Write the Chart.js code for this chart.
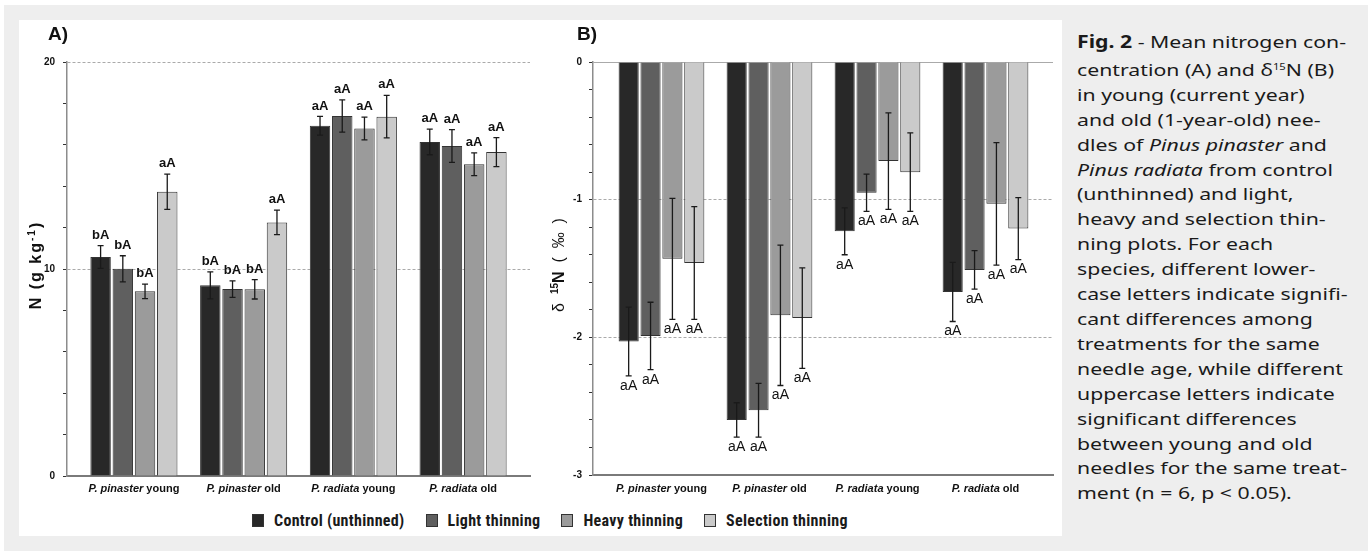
<!DOCTYPE html>
<html>
<head>
<meta charset="utf-8">
<script src="https://cdn.jsdelivr.net/npm/chart.js@4.4.0/dist/chart.umd.min.js"></script>
<style>
  html, body { margin: 0; padding: 0; background: #fff; }
  body { width: 1368px; height: 551px; position: relative; overflow: hidden; font-family: "Liberation Sans", Arial, sans-serif; }
  #frame { position: absolute; left: 4px; top: 5px; right: 0; bottom: 0; background: #eeeeee; }
  #panel { position: absolute; left: 19px; top: 20px; width: 1043px; height: 516px; background: #fff; }
  canvas { position: absolute; }
  #chartA { left: 19px; top: 20px; }
  #chartB { left: 535px; top: 20px; }
  #legend { position: absolute; left: 252px; top: 511px; display: flex; align-items: center; font: bold 16px "Roboto Condensed", "Liberation Sans", sans-serif; letter-spacing: 0.3px; color: #1a1a1a; }
  #legend .item { display: flex; align-items: center; margin-right: 21px; }
  #legend .sw { width: 10px; height: 11px; border: 1px solid #333; margin-right: 10px; }
  #caption { position: absolute; left: 1077px; top: 30px; font: 17px "Noto Sans", sans-serif; line-height: 24.9px; color: #1a1a1a; white-space: nowrap; transform: scaleX(1.25); transform-origin: 0 0; }
</style>
</head>
<body>
<div id="frame"></div>
<div id="panel"></div>
<canvas id="chartA" width="516" height="480"></canvas>
<canvas id="chartB" width="527" height="480"></canvas>
<div id="legend"></div>
<div id="caption">
<b>Fig. 2</b> - Mean nitrogen con-<br>
centration (A) and δ<sup style="font-size:9px;vertical-align:6px">15</sup>N (B)<br>
in young (current year)<br>
and old (1-year-old) nee-<br>
dles of <i>Pinus pinaster</i> and<br>
<i>Pinus radiata</i> from control<br>
(unthinned) and light,<br>
heavy and selection thin-<br>
ning plots. For each<br>
species, different lower-<br>
case letters indicate signifi-<br>
cant differences among<br>
treatments for the same<br>
needle age, while different<br>
uppercase letters indicate<br>
significant differences<br>
between young and old<br>
needles for the same treat-<br>
ment (n = 6, p &lt; 0.05).
</div>
<script>
// categories
const species = ['P. pinaster', 'P. pinaster', 'P. radiata', 'P. radiata'];
const ages = ['young', 'old', 'young', 'old'];
const treatments = ['Control (unthinned)', 'Light thinning', 'Heavy thinning', 'Selection thinning'];

// A) N concentration (g kg-1), mean and error
const nControl = [10.58, 9.21, 16.92, 16.14];
const nLight = [10.01, 9.03, 17.39, 15.94];
const nHeavy = [8.92, 9.02, 16.79, 15.06];
const nSelection = [13.73, 12.25, 17.36, 15.65];
const nControlErr = [0.55, 0.65, 0.45, 0.62];
const nLightErr = [0.63, 0.40, 0.78, 0.79];
const nHeavyErr = [0.35, 0.47, 0.55, 0.55];
const nSelectionErr = [0.85, 0.59, 1.03, 0.70];
const nControlLet = ['bA', 'bA', 'aA', 'aA'];
const nLightLet = ['bA', 'bA', 'aA', 'aA'];
const nHeavyLet = ['bA', 'bA', 'aA', 'aA'];
const nSelectionLet = ['aA', 'aA', 'aA', 'aA'];

// B) d15N (permil)
const dControl = [-2.03, -2.60, -1.23, -1.67];
const dLight = [-1.99, -2.53, -0.95, -1.51];
const dHeavy = [-1.43, -1.84, -0.72, -1.03];
const dSelection = [-1.46, -1.86, -0.80, -1.21];
const dControlErr = [0.25, 0.125, 0.17, 0.215];
const dLightErr = [0.245, 0.195, 0.135, 0.14];
const dHeavyErr = [0.44, 0.51, 0.35, 0.445];
const dSelectionErr = [0.41, 0.365, 0.285, 0.225];
const dLetters = ['aA', 'aA', 'aA', 'aA'];

const nTicks = [0, 10, 20];
const dTicks = [0, -1, -2, -3];

const fills = ['#282828', '#5f5f5f', '#9b9b9b', '#cacaca'];
const FONT = '"Liberation Sans", Arial, sans-serif';

// legend
const legend = document.getElementById('legend');
treatments.forEach((t, k) => {
    const item = document.createElement('div');
    item.className = 'item';
    const sw = document.createElement('div');
    sw.className = 'sw';
    sw.style.background = fills[k];
    const span = document.createElement('span');
    span.textContent = t;
    item.appendChild(sw);
    item.appendChild(span);
    legend.appendChild(item);
});

function makeSets(values, errs, letters) {
    return treatments.map((t, k) => ({
        label: t,
        data: values[k].map((v, i) => ({ x: i, y: v })),
        err: errs[k],
        letters: letters[k],
        backgroundColor: fills[k],
        borderColor: '#333',
        borderWidth: 1,
        categoryPercentage: 0.81,
        barPercentage: 0.92
    }));
}

// error bars + significance letters
const errorBars = {
    id: 'errorBars',
    afterDatasetsDraw(chart, args, opts) {
        const ctx = chart.ctx;
        const ys = chart.scales.y;
        ctx.save();
        chart.data.datasets.forEach((ds, d) => {
            chart.getDatasetMeta(d).data.forEach((bar, i) => {
                const v = ds.data[i].y, e = ds.err[i];
                const y1 = ys.getPixelForValue(v + e);
                const y2 = ys.getPixelForValue(v - e);
                ctx.strokeStyle = '#1a1a1a';
                ctx.lineWidth = 1.3;
                ctx.beginPath();
                ctx.moveTo(bar.x, y1); ctx.lineTo(bar.x, y2);
                ctx.moveTo(bar.x - 3, y1); ctx.lineTo(bar.x + 3, y1);
                ctx.moveTo(bar.x - 3, y2); ctx.lineTo(bar.x + 3, y2);
                ctx.stroke();
                ctx.fillStyle = '#111';
                ctx.textAlign = 'center';
                if (opts.below) {
                    ctx.font = '14px ' + FONT;
                    ctx.textBaseline = 'top';
                    ctx.fillText(ds.letters[i], bar.x, y2 + 3);
                } else {
                    ctx.font = 'bold 13px ' + FONT;
                    ctx.textBaseline = 'bottom';
                    ctx.fillText(ds.letters[i], bar.x, y1 - 4);
                }
            });
        });
        ctx.restore();
    }
};

function drawParts(ctx, parts, x, y) {
    let w = 0;
    parts.forEach(p => { ctx.font = p.font; w += ctx.measureText(p.text).width; });
    let cx = x - w / 2;
    parts.forEach(p => {
        ctx.font = p.font;
        ctx.fillText(p.text, cx, y + (p.dy || 0));
        cx += ctx.measureText(p.text).width;
    });
}

// category labels, axis title and panel letter
const decor = {
    id: 'decor',
    afterDraw(chart, args, opts) {
        const ctx = chart.ctx;
        const xs = chart.scales.x;
        const area = chart.chartArea;
        ctx.save();
        ctx.fillStyle = '#111';
        ctx.textAlign = 'left';
        ctx.textBaseline = 'middle';
        species.forEach((sp, i) => {
            drawParts(ctx, [
                { text: sp, font: 'italic bold 11px ' + FONT },
                { text: ' ' + ages[i], font: 'bold 11px ' + FONT }
            ], xs.getPixelForValue(i), area.bottom + opts.labelGap);
        });
        ctx.font = 'bold 19px ' + FONT;
        ctx.fillText(opts.panel, opts.panelX, 15);
        ctx.translate(opts.titleX, opts.titleY);
        ctx.rotate(-Math.PI / 2);
        ctx.textBaseline = 'middle';
        ctx.letterSpacing = opts.spacing;
        drawParts(ctx, opts.title, 0, 0);
        ctx.restore();
    }
};

function baseOptions(cfg) {
    return {
        responsive: false,
        animation: false,
        events: [],
        layout: { padding: { top: 42, right: cfg.right, bottom: 0, left: 0 } },
        plugins: {
            legend: { display: false },
            tooltip: { enabled: false },
            errorBars: { below: cfg.below },
            decor: cfg.decor
        },
        scales: {
            x: {
                type: 'linear',
                min: cfg.xmin,
                max: cfg.xmax,
                offset: false,
                afterBuildTicks: s => { s.ticks = species.map((_, i) => ({ value: i })); },
                afterFit: s => { s.height = cfg.xh; },
                ticks: { display: false },
                grid: { display: false, offset: false },
                border: { color: '#7a7a7a', width: 2 }
            },
            y: {
                min: cfg.ymin,
                max: cfg.ymax,
                afterFit: s => { s.width = cfg.yw; },
                ticks: {
                    stepSize: cfg.step,
                    autoSkip: false,
                    padding: cfg.pad,
                    color: '#111',
                    font: { family: FONT, size: 10, weight: 'bold' },
                    callback: v => {
                        const r = Math.round(v);
                        return Math.abs(v - r) < 1e-6 && cfg.labels.includes(r) ? String(r) : '';
                    }
                },
                grid: {
                    color: c => {
                        const v = c.tick ? Math.round(c.tick.value * 1000) / 1000 : NaN;
                        return cfg.lines.includes(v) ? '#aaaaaa' : 'transparent';
                    },
                    tickColor: '#333',
                    tickLength: 4,
                    lineWidth: 1
                },
                border: {
                    color: '#8c8c8c',
                    width: 1.5,
                    dash: c => (c.tick && Math.abs(c.tick.value) < 1e-6) ? [] : [3, 2]
                }
            }
        }
    };
}

new Chart(document.getElementById('chartA'), {
    type: 'bar',
    data: { datasets: makeSets([nControl, nLight, nHeavy, nSelection], [nControlErr, nLightErr, nHeavyErr, nSelectionErr], [nControlLet, nLightLet, nHeavyLet, nSelectionLet]) },
    options: baseOptions({
        right: 5, xmin: -0.61, xmax: 3.61, xh: 24, yw: 48, ymin: 0, ymax: 20, step: 2, pad: 8,
        labels: nTicks, lines: [10, 20], below: false,
        decor: {
            labelGap: 13, panel: 'A)', panelX: 29, titleX: 18, titleY: 245, spacing: '2px',
            title: [
                { text: 'N (g kg', font: 'bold 16px ' + FONT },
                { text: '-1', font: 'bold 10px ' + FONT, dy: -5 },
                { text: ')', font: 'bold 16px ' + FONT }
            ]
        }
    }),
    plugins: [errorBars, decor]
});

new Chart(document.getElementById('chartB'), {
    type: 'bar',
    data: { datasets: makeSets([dControl, dLight, dHeavy, dSelection], [dControlErr, dLightErr, dHeavyErr, dSelectionErr], [dLetters, dLetters, dLetters, dLetters]) },
    options: baseOptions({
        right: 9, xmin: -0.634, xmax: 3.625, xh: 25, yw: 58, ymin: -3, ymax: 0, step: 0.2, pad: 7,
        labels: dTicks, lines: [0, -1, -2], below: true,
        decor: {
            labelGap: 14, panel: 'B)', panelX: 42, titleX: 25, titleY: 245, spacing: '0px',
            title: [
                { text: 'δ  ', font: '16px ' + FONT },
                { text: '15', font: 'bold 10px ' + FONT, dy: -5 },
                { text: 'N', font: 'bold 16px ' + FONT },
                { text: '  (  ‰  )', font: '16px ' + FONT }
            ]
        }
    }),
    plugins: [errorBars, decor]
});
</script>
</body>
</html>
